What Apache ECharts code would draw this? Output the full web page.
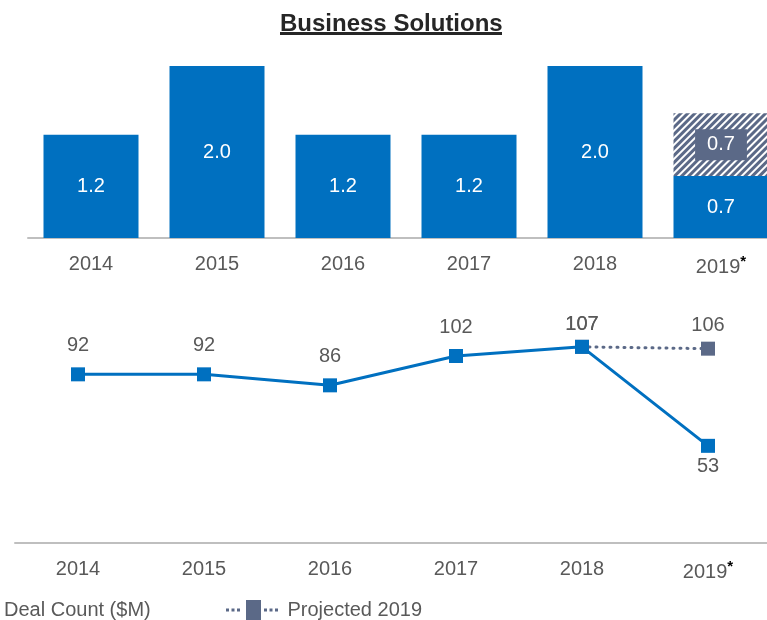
<!DOCTYPE html>
<html>
<head>
<meta charset="utf-8">
<script src="https://cdn.jsdelivr.net/npm/echarts@6/dist/echarts.min.js"></script>
<style>
  html, body { margin: 0; padding: 0; background: #fff; }
  #main { width: 767px; height: 620px; }
</style>
</head>
<body>
<div id="main"></div>
<script>
var myChart = echarts.init(document.getElementById('main'));

// data
var years = ['2014', '2015', '2016', '2017', '2018', '2019'];
var starred = ['2019'];
var dealValue = [1.2, 2.0, 1.2, 1.2, 2.0, 0.72];
var projectedValue = ['-', '-', '-', '-', '-', 0.73];
var dealCount = [92, 92, 86, 102, 107, 53];
var projectedCount = ['-', '-', '-', '-', 107, 106];

var blue = '#0070C0';
var slate = '#5B6987';
var textGrey = '#595959';
var font = 'Liberation Sans, Arial, sans-serif';

function yearLabel(v) {
    if (starred.indexOf(v) >= 0) {
        return '{y|' + v + '}{s|*}';
    }
    return '{y|' + v + '}';
}

var yearRich = {
    y: { fontSize: 20, color: textGrey, fontFamily: font },
    s: { fontSize: 15, color: '#000', fontFamily: font, fontWeight: 'bold', padding: [0, 0, 12, 0] }
};

// bottom chart labels: 53 below, the crowded top ones sit closer
var countData = dealCount.map(function (v, i) {
    if (i === 5) {
        return { value: v, label: { position: 'bottom', distance: 4 } };
    }
    if (i === 4) {
        return { value: v, label: { distance: 5 } };
    }
    return v;
});
var projData = projectedCount.map(function (v, i) {
    if (i === 4) {
        return { value: v, label: { distance: 5 } };
    }
    if (i === 5) {
        return { value: v, label: { distance: 6 } };
    }
    return v;
});

// dotted line + square, like the legend key in the picture
var projIcon = 'path://M0,8.5h3v3h-3z M5.5,8.5h3v3h-3z M11,8.5h3v3h-3z M20,0h15v20h-15z M38,8.5h3v3h-3z M43.5,8.5h3v3h-3z M49,8.5h3v3h-3z';

var option = {
    backgroundColor: '#fff',
    textStyle: { fontFamily: font },
    title: {
        text: 'Business Solutions',
        left: 275,
        top: 7,
        textStyle: {
            fontSize: 24,
            fontWeight: 'bold',
            color: '#262626',
            fontFamily: font
        }
    },
    graphic: [
        { type: 'rect', shape: { x: 280, y: 32, width: 222, height: 3 }, style: { fill: '#262626' } }
    ],
    legend: [
        {
            data: ['Deal Count ($M)'],
            left: -61,
            top: 595,
            itemWidth: 54,
            itemHeight: 16,
            textStyle: { fontSize: 20, color: textGrey }
        },
        {
            data: [{ name: 'Projected 2019', icon: projIcon }],
            left: 221,
            top: 595,
            itemWidth: 55,
            itemHeight: 20,
            textStyle: { fontSize: 20, color: textGrey, padding: [0, 0, 0, 3] }
        }
    ],
    grid: [
        { left: 28, width: 756, top: 66, bottom: 382, outerBoundsMode: 'none' },
        { left: 15, width: 756, top: 323, bottom: 77, outerBoundsMode: 'none' }
    ],
    xAxis: [
        {
            type: 'category',
            gridIndex: 0,
            data: years,
            axisLine: { lineStyle: { color: '#BFBFBF', width: 2 } },
            axisTick: { show: false },
            axisLabel: { margin: 16, formatter: yearLabel, rich: yearRich }
        },
        {
            type: 'category',
            gridIndex: 1,
            data: years,
            axisLine: { lineStyle: { color: '#BFBFBF', width: 2 } },
            axisTick: { show: false },
            axisLabel: { margin: 16, formatter: yearLabel, rich: yearRich }
        }
    ],
    yAxis: [
        { type: 'value', gridIndex: 0, min: 0, max: 2.0, show: false },
        { type: 'value', gridIndex: 1, min: 0, max: 120, show: false }
    ],
    series: [
        {
            name: 'Deal Value ($M)',
            type: 'bar',
            xAxisIndex: 0,
            yAxisIndex: 0,
            stack: 'v',
            barWidth: 95,
            data: dealValue,
            itemStyle: { color: blue },
            label: {
                show: true,
                position: 'inside',
                color: '#fff',
                fontSize: 20,
                formatter: function (p) { return p.value.toFixed(1); }
            }
        },
        {
            name: 'Projected value',
            type: 'bar',
            xAxisIndex: 0,
            yAxisIndex: 0,
            stack: 'v',
            barWidth: 95,
            data: projectedValue,
            itemStyle: {
                color: '#fff',
                decal: {
                    symbol: 'rect',
                    symbolSize: 1,
                    color: slate,
                    dashArrayX: [1, 0],
                    dashArrayY: [3, 1.5],
                    rotation: -Math.PI / 4
                }
            },
            label: {
                show: true,
                position: 'inside',
                color: '#fff',
                fontSize: 20,
                backgroundColor: slate,
                padding: [6, 12, 5, 12],
                formatter: function (p) { return p.value.toFixed(1); }
            }
        },
        {
            name: 'Projected 2019',
            type: 'line',
            xAxisIndex: 1,
            yAxisIndex: 1,
            data: projData,
            symbol: 'rect',
            symbolSize: 14,
            z: 2,
            itemStyle: { color: slate },
            lineStyle: { color: slate, width: 3, type: [1, 6], cap: 'round' },
            label: { show: true, position: 'top', distance: 12, fontSize: 20, color: textGrey }
        },
        {
            name: 'Deal Count ($M)',
            type: 'line',
            xAxisIndex: 1,
            yAxisIndex: 1,
            data: countData,
            symbol: 'rect',
            symbolSize: 14,
            z: 3,
            itemStyle: { color: blue },
            lineStyle: { color: blue, width: 3 },
            label: { show: true, position: 'top', distance: 12, fontSize: 20, color: textGrey }
        }
    ]
};

myChart.setOption(option);
</script>
</body>
</html>
